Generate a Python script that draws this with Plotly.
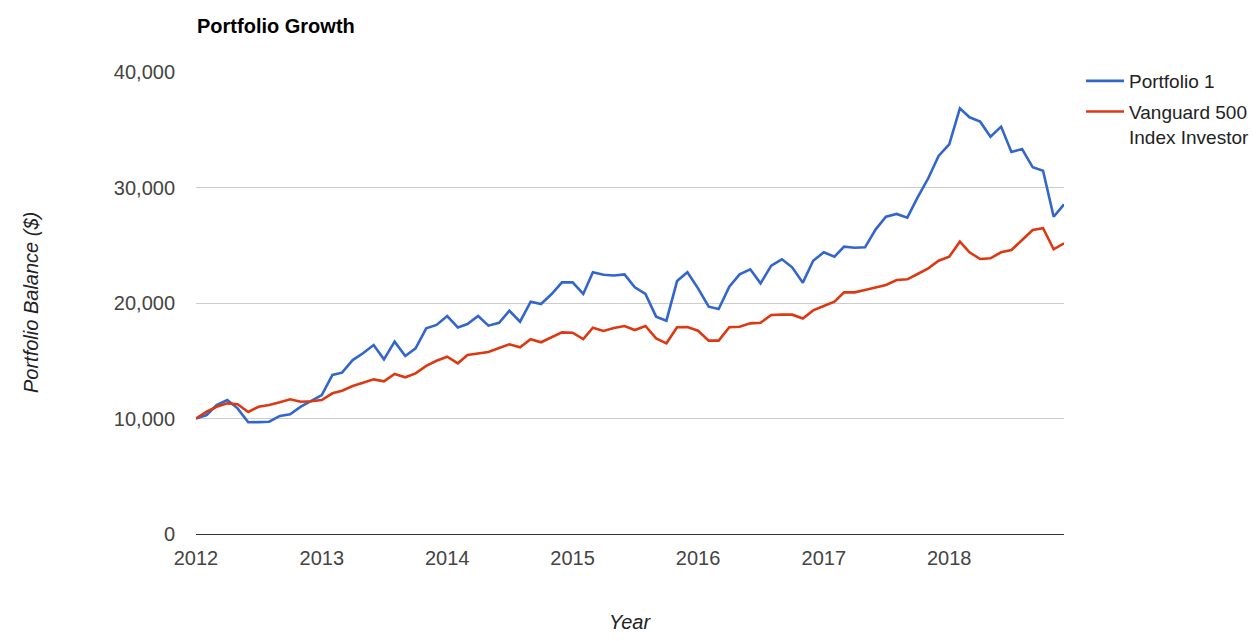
import pandas as pd
import plotly.graph_objects as go

# Monthly balances, Jan 2012 .. Dec 2018
months = pd.date_range("2012-01-01", periods=84, freq="MS")

portfolio_1 = [
    10000, 10300, 11170, 11600, 10880, 9670, 9690, 9720, 10220, 10360, 11020, 11540,
    12030, 13770, 13970, 15060, 15650, 16360, 15120, 16650, 15410, 16080, 17810, 18100,
    18870, 17890, 18180, 18870, 18040, 18290, 19330, 18380, 20110, 19910, 20780, 21790,
    21790, 20780, 22660, 22450, 22380, 22480, 21360, 20780, 18820, 18470, 21900, 22660,
    21270, 19680, 19480, 21410, 22480, 22920, 21700, 23230, 23780, 23090, 21760, 23660,
    24390, 24010, 24880, 24790, 24820, 26380, 27470, 27710, 27390, 29150, 30800, 32730,
    33740, 36850, 36080, 35700, 34400, 35270, 33070, 33330, 31750, 31460, 27470, 28540,
]

vanguard_500 = [
    10000, 10590, 11020, 11310, 11230, 10560, 11020, 11170, 11400, 11660, 11450, 11490,
    11600, 12180, 12410, 12810, 13100, 13390, 13220, 13850, 13570, 13910, 14550, 15000,
    15350, 14780, 15500, 15640, 15760, 16100, 16420, 16160, 16860, 16600, 17030, 17460,
    17430, 16880, 17860, 17580, 17830, 18010, 17660, 18010, 16940, 16510, 17900, 17920,
    17600, 16740, 16740, 17900, 17950, 18240, 18290, 18960, 18990, 18990, 18660, 19360,
    19740, 20110, 20920, 20920, 21130, 21360, 21560, 21990, 22050, 22510, 23000, 23660,
    24010, 25310, 24390, 23810, 23870, 24390, 24590, 25450, 26320, 26470, 24650, 25170,
]

series_names = ["Portfolio 1", "Vanguard 500<br>Index Investor"]
y_ticks = [0, 10000, 20000, 30000, 40000]

FONT = "Arial, Liberation Sans, sans-serif"

# page has an 8px body margin: figure coordinates = page coordinates - 8
W, H = 1252, 633
PL, PR, PT, PB = 188, 1056, 64, 526

fig = go.Figure()
fig.add_trace(go.Scatter(x=months, y=portfolio_1, mode="lines", name=series_names[0],
                         legendgroup="p1",
                         line=dict(color="#3366cc", width=2.6)))
fig.add_trace(go.Scatter(x=months, y=vanguard_500, mode="lines", name=series_names[1],
                         legendgroup="v500",
                         line=dict(color="#dc3912", width=2.6)))

pw, ph = PR - PL, PB - PT

fig.update_layout(
    width=W, height=H,
    margin=dict(l=PL, r=W - PR, t=PT, b=H - PB, autoexpand=False),
    paper_bgcolor="white", plot_bgcolor="white",
    font=dict(family=FONT, size=20, color="#444"),
    title=dict(text="<b>Portfolio Growth</b>", x=(PL + 1) / W, xanchor="left",
               y=1 - 18 / H, yanchor="middle", xref="container", yref="container",
               font=dict(family=FONT, size=20, color="#000")),
    showlegend=True,
    legend=dict(x=1 + 17 / pw, xanchor="left", y=1 + 10 / ph, yanchor="top", valign="top",
                font=dict(family=FONT, size=19, color="#222"), itemwidth=38,
                traceorder="grouped", tracegroupgap=3,
                bgcolor="rgba(0,0,0,0)"),
    xaxis=dict(range=[months[0], months[-1]], tickformat="%Y", dtick="M12",
               tick0="2012-01-01", showgrid=False, zeroline=False, showline=False,
               ticks="", tickfont=dict(size=20, color="#444"), ticklabelstandoff=10),
    yaxis=dict(range=[0, 40000], tickvals=y_ticks, tickformat=",d",
               showgrid=True, gridcolor="#cccccc", gridwidth=1,
               zeroline=True, zerolinecolor="#333333", zerolinewidth=1.3,
               showline=False, ticks="", tickfont=dict(size=20, color="#444"),
               ticklabelstandoff=20),
    annotations=[
        dict(text="<i>Portfolio Balance ($)</i>", xref="paper", yref="paper",
             x=(23 - PL) / pw, y=0.5, xanchor="center", yanchor="middle",
             textangle=-90, showarrow=False,
             font=dict(family=FONT, size=20, color="#222")),
        dict(text="<i>Year</i>", xref="paper", yref="paper",
             x=0.5, y=(PB - 614) / ph, xanchor="center", yanchor="middle",
             showarrow=False, font=dict(family=FONT, size=20, color="#222")),
    ],
    hovermode="x",
)

fig.write_html("out.html")
